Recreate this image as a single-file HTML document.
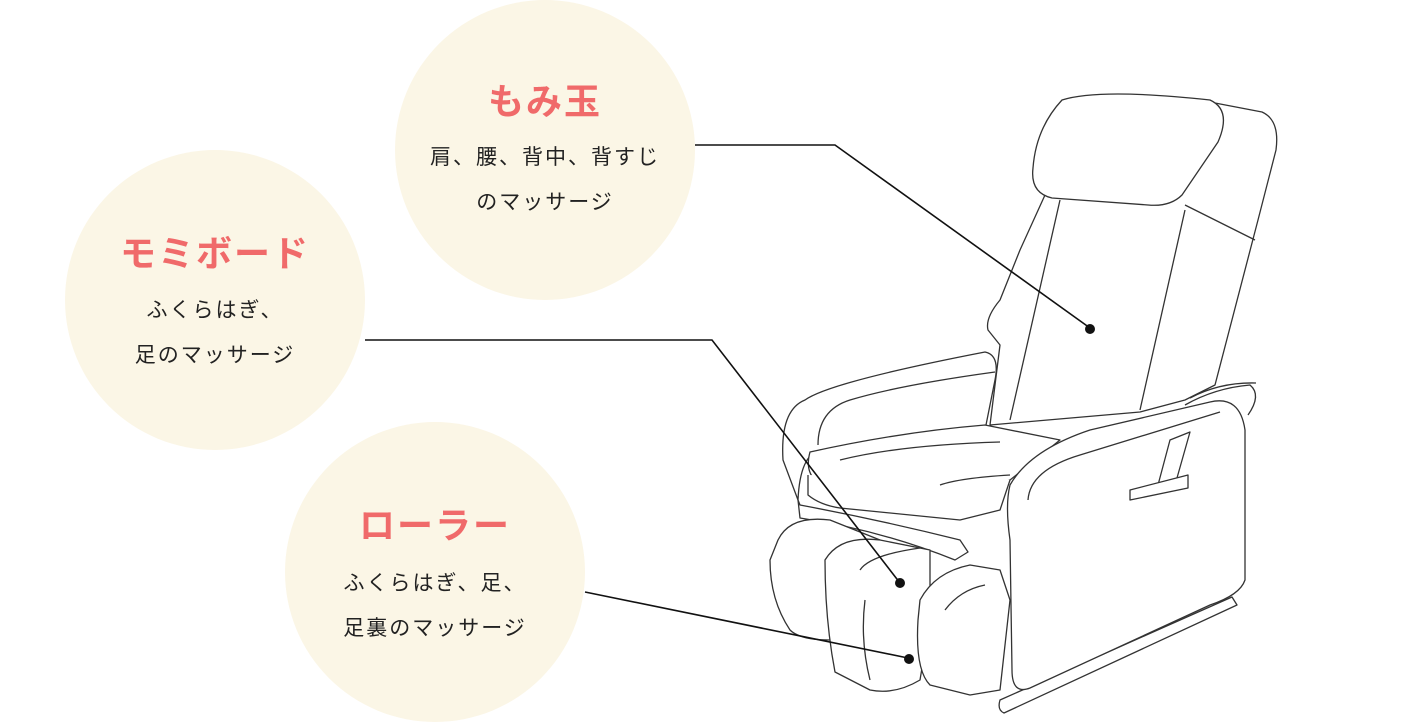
<!DOCTYPE html>
<html><head><meta charset="utf-8"><style>
html,body{margin:0;padding:0;background:#fff;}
body{width:1408px;height:723px;position:relative;overflow:hidden;font-family:"Liberation Sans","Noto Sans CJK JP",sans-serif;}
.c{position:absolute;border-radius:50%;background:#fbf6e6;width:300px;height:300px;}
.t{position:absolute;width:300px;text-align:center;color:#222;}
.h{color:#f06a6a;font-weight:bold;font-size:36px;letter-spacing:2px;line-height:44px;}
.s{font-size:21px;line-height:45px;letter-spacing:2px;}
svg{position:absolute;left:0;top:0;}
</style></head><body>
<div class="c" style="left:395px;top:0px"></div>
<div class="c" style="left:65px;top:150px"></div>
<div class="c" style="left:285px;top:422px"></div>
<div class="t" style="left:395px;top:80px"><div class="h">もみ玉</div><div class="s" style="margin-top:11px">肩、腰、背中、背すじ<br>のマッサージ</div></div>
<div class="t" style="left:65px;top:232px"><div class="h">モミボード</div><div class="s" style="margin-top:12px">ふくらはぎ、<br>足のマッサージ</div></div>
<div class="t" style="left:285px;top:504px"><div class="h">ローラー</div><div class="s" style="margin-top:13px">ふくらはぎ、足、<br>足裏のマッサージ</div></div>
<svg width="1408" height="723" viewBox="0 0 1408 723">
<g fill="#fff" stroke="#333" stroke-width="1.3" stroke-linejoin="round">
<path d="M1215,103 L1262,112 Q1280,120 1276,150 L1258,220 L1215,385 L1185,400 L1140,412 L990,425 L1000,345 L988,330 Q985,318 1000,300 L1020,250 L1045,195 Z"/>
<path d="M1060,200 L1010,420 M1185,210 L1140,410 M1185,205 L1255,240" fill="none"/>
<path d="M1062,100 Q1100,88 1210,100 Q1232,110 1218,142 L1182,195 Q1170,207 1148,205 L1052,198 Q1030,193 1033,168 Q1036,128 1062,100Z"/>
<path d="M783,460 Q780,410 805,400 Q830,382 985,352 Q1000,355 995,380 L985,430 L820,450 Q800,455 798,500 Z"/>
<path d="M818,445 Q818,410 850,400 Q900,385 995,372" fill="none"/>
<path d="M810,452 Q900,432 985,425 L1060,440 L1010,480 Q975,495 950,500 L815,480 Q805,470 810,452Z"/>
<path d="M808,475 L808,495 Q820,505 840,508 L960,520 L1000,510 L1010,480" />
<path d="M840,460 Q900,445 1000,442 M940,485 Q960,478 1010,475" fill="none"/>
<path d="M798,500 L800,518 Q880,530 955,560 L968,552 L960,540 Q880,520 800,505Z"/>
<path d="M778,540 Q790,515 830,520 L880,540 Q860,545 835,555 L830,640 Q800,640 790,630 Q770,600 770,560Z"/>
<path d="M825,560 Q840,535 880,540 L930,550 L930,620 L920,680 Q895,695 870,690 L835,672 Q825,620 825,560Z"/>
<path d="M920,600 Q935,572 970,565 L1000,570 L1010,600 L1000,690 L970,695 L930,685 Q915,670 918,620Z"/>
<path d="M860,570 Q870,555 920,548 M870,680 Q860,640 865,600 M945,610 Q960,590 985,585" fill="none"/>
<path d="M1000,700 L1232,597 L1237,605 L1004,713 Q997,710 1000,700Z"/>
<path d="M1010,485 Q1030,450 1090,430 L1210,402 Q1240,395 1245,430 L1245,580 Q1240,595 1210,605 L1030,688 Q1012,695 1012,670 L1010,540 Q1005,505 1010,485Z"/>
<path d="M1028,500 Q1030,470 1080,455 L1220,412" fill="none"/>
<path d="M1185,405 Q1215,388 1250,385 Q1262,395 1248,415 M1190,398 Q1220,382 1256,383" fill="none"/>
<path d="M1170,440 L1190,432 L1175,485 L1158,485Z"/>
<path d="M1130,490 L1188,475 L1188,488 L1130,500Z"/>
</g>
<g stroke="#111" stroke-width="1.6" fill="none">
<polyline points="695,145 835,145 1090,328"/>
<polyline points="365,340 712,340 900,583"/>
<polyline points="585,592 908,658"/>
</g>
<g fill="#111"><circle cx="1090" cy="329" r="5"/><circle cx="900" cy="583" r="5"/><circle cx="909" cy="659" r="5"/></g>
</svg>
</body></html>
